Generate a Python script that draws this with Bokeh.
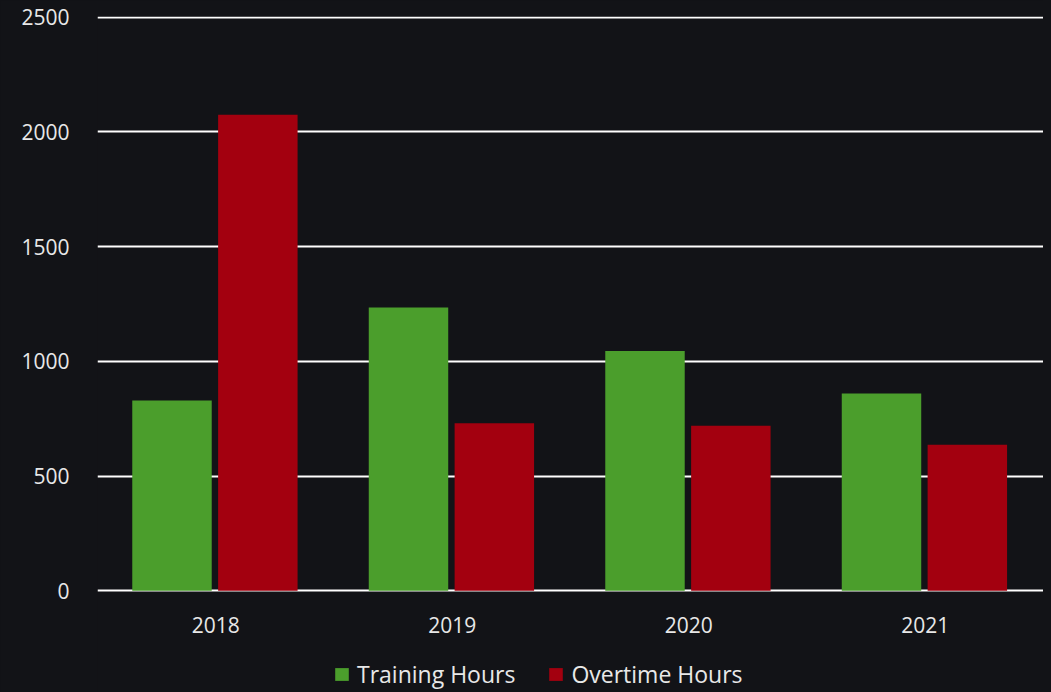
from bokeh.plotting import figure
from bokeh.models import ColumnDataSource, FactorRange, Legend, LegendItem
from bokeh.transform import dodge
from bokeh.embed import file_html
from bokeh.resources import INLINE

years = ["2018", "2019", "2020", "2021"]
training_hours = [830, 1235, 1045, 860]
overtime_hours = [2075, 730, 720, 637]
y_ticks = [0, 500, 1000, 1500, 2000, 2500]

BG = "#121317"
GREEN = "#4b9e2c"
RED = "#a3000f"
FONT = "Open Sans"

src = ColumnDataSource(dict(year=years, training=training_hours, overtime=overtime_hours))

# frame extends below the zero line to hold the category labels and the legend
p = figure(x_range=FactorRange(*years), y_range=(-443, 2503),
           frame_width=946, frame_height=676,
           output_backend="svg", toolbar_location=None,
           background_fill_color=BG, border_fill_color=BG, outline_line_color=None,
           min_border_left=97, min_border_right=0, min_border_top=16, min_border_bottom=0)

r1 = p.vbar(x=dodge("year", -0.185, range=p.x_range), top="training", width=0.336,
            source=src, fill_color=GREEN, line_color=None)
r2 = p.vbar(x=dodge("year", 0.178, range=p.x_range), top="overtime", width=0.336,
            source=src, fill_color=RED, line_color=None)

p.x_range.range_padding = 0
p.xgrid.grid_line_color = None
p.ygrid.grid_line_color = "white"
p.ygrid.grid_line_width = 2
p.yaxis.ticker = y_ticks
p.yaxis.axis_line_color = None
p.yaxis.major_tick_line_color = None
p.yaxis.minor_tick_line_color = None
p.yaxis.major_label_standoff = 22
p.yaxis.major_label_text_color = "#e8e8e8"
p.yaxis.major_label_text_font = FONT
p.yaxis.major_label_text_font_size = "21px"

p.xaxis.fixed_location = 0
p.xaxis.axis_line_color = None
p.xaxis.major_tick_line_color = None
p.xaxis.major_tick_out = 0
p.xaxis.major_tick_in = 0
p.xaxis.major_label_standoff = 26
p.xaxis.major_label_text_color = "#e8e8e8"
p.xaxis.major_label_text_font = FONT
p.xaxis.major_label_text_font_size = "21px"

legend = Legend(items=[LegendItem(label="Training Hours", renderers=[r1]),
                       LegendItem(label="Overtime Hours", renderers=[r2])],
                orientation="horizontal", location=(236, 2),
                background_fill_alpha=0, border_line_color=None,
                label_text_color="#e8e8e8", label_text_font=FONT,
                label_text_font_size="23px", glyph_width=17, glyph_height=16,
                spacing=32, label_standoff=7, margin=0, padding=0)
p.add_layout(legend, "center")

html = file_html(p, INLINE)
html = html.replace("<head>", "<head><style>html,body{background:%s;overflow:hidden;}</style>" % BG, 1)
open("out.html", "w").write(html)
